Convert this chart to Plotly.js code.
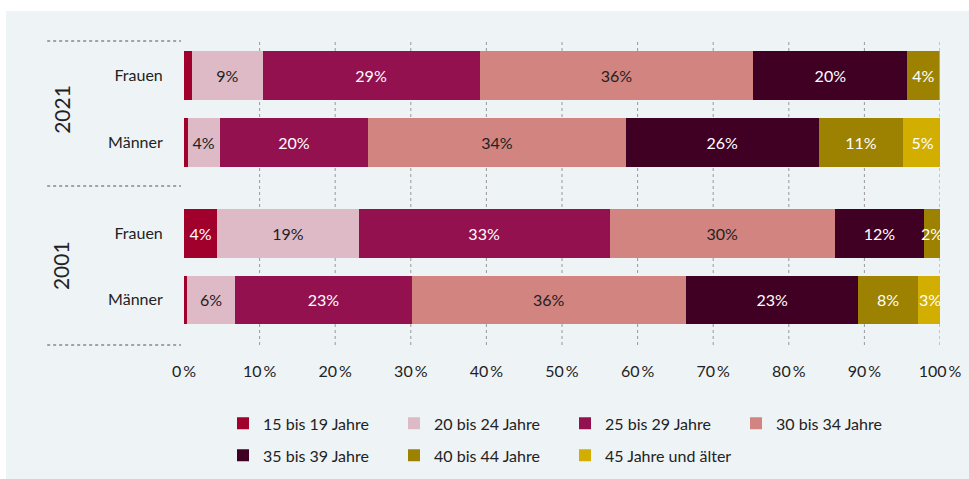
<!DOCTYPE html>
<html><head><meta charset="utf-8">
<script src="https://cdn.plot.ly/plotly-3.0.1.min.js"></script>
<style>html,body{margin:0;padding:0;background:#fff}#chart{width:969px;height:479px}</style>
</head><body><div id="chart"></div>
<script>
const groups = ["Frauen", "Männer"];
const years = ["2021", "2001"];
const seriesNames = ["15 bis 19 Jahre","20 bis 24 Jahre","25 bis 29 Jahre","30 bis 34 Jahre","35 bis 39 Jahre","40 bis 44 Jahre","45 Jahre und älter"];
const colors = ["#A0002B","#DEBAC6","#941150","#D18480","#400023","#9C8200","#D2AE00"];
const textColors = ["#fff","#222","#fff","#222","#fff","#fff","#fff"];
// values [Frauen, Männer] per series for 2021
const v2021 = [
  [1.1, 0.5],
  [9.3, 4.2],
  [28.7, 19.7],
  [36.2, 34.0],
  [20.4, 25.6],
  [4.2, 11.1],
  [0.2, 5.2]
];
// values [Frauen, Männer] per series for 2001
const v2001 = [
  [4.4, 0.4],
  [18.7, 6.4],
  [33.2, 23.3],
  [29.8, 36.3],
  [11.8, 22.8],
  [2.1, 7.9],
  [0.2, 3.2]
];
const xTicks = [0,10,20,30,40,50,60,70,80,90,100];

const FONT = "Lato, 'Noto Sans', sans-serif";
const traces = [];
function lbl(v){ const r = Math.round(v); return r >= 2 ? r + "%" : ""; }
[v2021, v2001].forEach((vals, gi) => {
  vals.forEach((pair, si) => {
    traces.push({
      type: "bar", orientation: "h",
      x: pair, y: groups,
      yaxis: gi === 0 ? "y" : "y2",
      name: seriesNames[si], legendgroup: seriesNames[si],
      legend: si < 4 ? "legend" : "legend2",
      showlegend: gi === 0,
      marker: {color: colors[si], line: {width: 0}},
      text: pair.map(lbl), textposition: "inside", insidetextanchor: "middle",
      textangle: 0, constraintext: "none",
      textfont: {family: FONT, size: 16, color: textColors[si]},
      hoverinfo: "skip"
    });
  });
});

const shapes = [
  {type:"rect", xref:"paper", yref:"paper", x0:-0.2354, x1:1.04, y0:-0.45, y1:1.0987, fillcolor:"#EEF3F6", line:{width:0}, layer:"below"}
];
xTicks.slice(1).forEach(t => shapes.push({type:"line", xref:"x", yref:"paper", x0:t, x1:t, y0:0, y1:1, line:{color:"#999", width:1, dash:"dot"}, layer:"below"}));
shapes.push({type:"line", xref:"x", yref:"paper", x0:-0.1, x1:-0.1, y0:0, y1:1, line:{color:"#888", width:1.3}, layer:"above"});
[1, 0.523, 0].forEach(yy => shapes.push({type:"line", xref:"paper", yref:"paper", x0:-0.181, x1:-0.004, y0:yy, y1:yy, line:{color:"#555", width:1, dash:"dot"}}));

const annotations = [
  {text:"2021", xref:"paper", yref:"paper", x:-0.163, xanchor:"center", y:0.776, yanchor:"middle", textangle:-90, showarrow:false, font:{family:FONT, size:21, color:"#222"}},
  {text:"2001", xref:"paper", yref:"paper", x:-0.163, xanchor:"center", y:0.262, yanchor:"middle", textangle:-90, showarrow:false, font:{family:FONT, size:21, color:"#222"}}
];

const legendBase = {orientation:"h", xanchor:"left", yanchor:"middle", traceorder:"normal",
           entrywidth:126, entrywidthmode:"pixels", font:{family:FONT, size:16, color:"#222"}, bgcolor:"rgba(0,0,0,0)",
           itemclick:false, itemdoubleclick:false, itemwidth:30};

const layout = {
  width: 969, height: 479,
  paper_bgcolor: "#fff", plot_bgcolor: "rgba(0,0,0,0)",
  margin: {l:184, r:29, t:41, b:134, autoexpand:false},
  barmode: "stack", bargap: 0.27,
  font: {family: FONT, size: 16, color: "#222"},
  xaxis: {range:[0,100], anchor:"free", position:0, tickvals: xTicks, ticktext: xTicks.map(t => t + "\u2009%"),
          showgrid:false, zeroline:false, showline:false, ticks:"outside", ticklen:12, tickcolor:"rgba(0,0,0,0)",
          tickfont:{family:FONT, size:16, color:"#222"}, fixedrange:true},
  yaxis: {domain:[0.556, 0.997], autorange:"reversed", type:"category", showgrid:false, zeroline:false, showline:false,
          ticks:"outside", ticklen:17, tickcolor:"rgba(0,0,0,0)", tickfont:{family:FONT, size:16, color:"#222"}, anchor:"x"},
  yaxis2: {domain:[0.039, 0.477], autorange:"reversed", type:"category", showgrid:false, zeroline:false, showline:false,
          ticks:"outside", ticklen:17, tickcolor:"rgba(0,0,0,0)", tickfont:{family:FONT, size:16, color:"#222"}, anchor:"x"},
  legend: Object.assign({}, legendBase, {x:0.0516, y:-0.258}),
  legend2: Object.assign({}, legendBase, {x:0.0516, y:-0.363}),
  shapes: shapes, annotations: annotations,
  uniformtext: {mode:false}
};
Plotly.newPlot("chart", traces, layout, {displayModeBar:false, staticPlot:true});
</script></body></html>
